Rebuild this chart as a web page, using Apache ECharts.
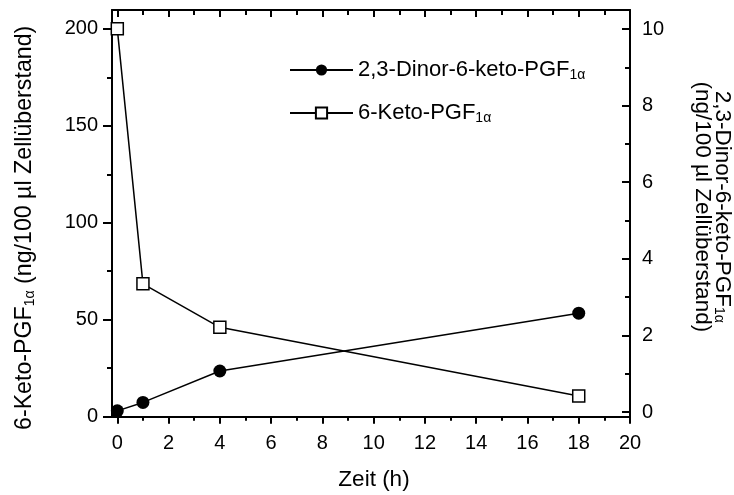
<!DOCTYPE html>
<html lang="de">
  <head>
    <meta charset="UTF-8" />
    <title>PGF1α Zeitverlauf</title>
    <script src="https://cdn.jsdelivr.net/npm/echarts@6/dist/echarts.min.js"></script>
    <style>
      body { margin: 0; background: #fff; }
      #chart { width: 734px; height: 495px; }
    </style>
  </head>
  <body>
    <div id="chart"></div>
  </body>
</html>
<script>
  // Daten
  const zeit = [0, 1, 4, 18];
  const ketoPGF = [200, 68.5, 46.1, 10.7]; // linke Achse, ng/100 µl
  const dinorPGF = [0.03, 0.25, 1.07, 2.58]; // rechte Achse, ng/100 µl

  // Achsen: Bereich und Striche
  const xRange = [-0.207, 20];
  const xMajor = [0, 2, 4, 6, 8, 10, 12, 14, 16, 18, 20];
  const xMinor = [1, 3, 5, 7, 9, 11, 13, 15, 17, 19];
  const yLeftRange = [0, 209.7];
  const yLeftMajor = [0, 50, 100, 150, 200];
  const yLeftMinor = [25, 75, 125, 175];
  const yRightRange = [-0.123, 10.496];
  const yRightMajor = [0, 2, 4, 6, 8, 10];
  const yRightMinor = [1, 3, 5, 7, 9];

  const font = '"Liberation Sans", Arial, sans-serif';
  const black = "#000";

  const pairs = (xs, ys) => xs.map((x, i) => [x, ys[i]]);

  const rich = (size, lh) => ({
    a: { fontSize: size, fontFamily: font, color: black, lineHeight: lh },
    s: { fontSize: Math.round(size * 0.62), fontFamily: font, color: black, lineHeight: lh, verticalAlign: "bottom" },
  });

  // eine Achse im einzigen Grid; nur Striche an festen Werten
  function axis(pos, range, ticks, len, opts) {
    opts = opts || {};
    return Object.assign(
      {
        gridIndex: 0,
        type: "value",
        position: pos,
        min: range[0],
        max: range[1],
        axisLine: { show: !!opts.line, onZero: false, lineStyle: { color: black, width: 2 } },
        axisTick: {
          show: true,
          inside: !!opts.inside,
          length: len,
          customValues: ticks,
          lineStyle: { color: black, width: 2 },
        },
        axisLabel: opts.labels
          ? { show: true, customValues: ticks, fontSize: 20, fontFamily: font, color: black, margin: opts.margin }
          : { show: false },
        splitLine: { show: false },
      },
      opts.extra || {}
    );
  }

  const chart = echarts.init(document.getElementById("chart"));
  const option = {
    animation: false,
    backgroundColor: "#fff",
    grid: { left: 112, right: 104, top: 10, bottom: 78.3, containLabel: false, outerBoundsMode: "none" },
    legend: {
      orient: "vertical",
      left: 289,
      top: 59,
      padding: 0,
      itemWidth: 63,
      itemHeight: 14,
      itemGap: 20,
      data: ["2,3-Dinor-6-keto-PGF1α", "6-Keto-PGF1α"],
      formatter: (name) =>
        name === "6-Keto-PGF1α" ? "{a|6-Keto-PGF}{s|1α}" : "{a|2,3-Dinor-6-keto-PGF}{s|1α}",
      textStyle: { fontFamily: font, color: black, rich: rich(22, 24) },
    },
    xAxis: [
      axis("bottom", xRange, xMajor, 7, {
        line: true,
        labels: true,
        margin: 17,
        extra: {
          name: "Zeit (h)",
          nameLocation: "middle",
          nameGap: 52,
          nameTextStyle: { fontSize: 22.5, fontFamily: font, color: black, padding: [0, 0, 0, 6] },
        },
      }),
      axis("bottom", xRange, xMinor, 4),
      axis("top", xRange, xMajor, 7, { line: true, inside: true }),
      axis("top", xRange, xMinor, 5, { inside: true }),
    ],
    yAxis: [
      axis("left", yLeftRange, yLeftMajor, 9, {
        line: true,
        labels: true,
        margin: 14,
        extra: {
          name: "{a|6-Keto-PGF}{s|1α}{a| (ng/100 µl Zellüberstand)}",
          nameLocation: "middle",
          nameGap: 75,
          nameTextStyle: { fontFamily: font, color: black, padding: [0, 29, 0, 0], rich: rich(23.2, 24) },
        },
      }),
      axis("left", yLeftRange, yLeftMinor, 5),
      axis("right", yRightRange, yRightMajor, 8, {
        line: true,
        labels: true,
        inside: true,
        margin: 12,
        extra: {
          name: "{a|2,3-Dinor-6-keto-PGF}{s|1α}\n{a|(ng/100 µl Zellüberstand)}",
          nameLocation: "middle",
          nameRotate: -90,
          nameGap: 62,
          nameTextStyle: { fontFamily: font, color: black, padding: [0, 13, 0, 0], rich: rich(22.5, 20) },
        },
      }),
      axis("right", yRightRange, yRightMinor, 5, { inside: true }),
    ],
    series: [
      {
        name: "2,3-Dinor-6-keto-PGF1α",
        type: "line",
        xAxisIndex: 0,
        yAxisIndex: 2,
        data: pairs(zeit, dinorPGF),
        symbol: "circle",
        symbolSize: 13,
        clip: false,
        itemStyle: { color: black },
        lineStyle: { color: black, width: 1.5 },
        z: 5,
      },
      {
        name: "6-Keto-PGF1α",
        type: "line",
        xAxisIndex: 0,
        yAxisIndex: 0,
        data: pairs(zeit, ketoPGF),
        symbol: "rect",
        symbolSize: 12,
        clip: false,
        itemStyle: { color: "#fff", borderColor: black, borderWidth: 1.5 },
        lineStyle: { color: black, width: 1.5 },
        z: 5,
      },
    ],
  };
  chart.setOption(option);
</script>
